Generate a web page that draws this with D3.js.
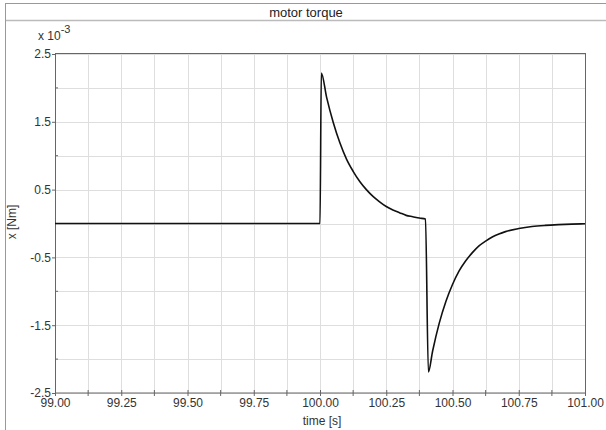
<!DOCTYPE html>
<html>
<head>
<meta charset="utf-8">
<script src="https://cdn.jsdelivr.net/npm/d3@7"></script>
<style>
  body { margin: 0; background: #fff; }
  svg { display: block; font-family: "Liberation Sans", Arial, sans-serif; }
  .tick text { font-size: 12px; fill: #333; }
</style>
</head>
<body>
<div id="chart"></div>
<script>
// time [s]
var time = [99.00, 100.000, 100.005, 100.025, 100.050, 100.075, 100.100, 100.125, 100.150,
  100.175, 100.200, 100.225, 100.250, 100.275, 100.300, 100.325, 100.350, 100.375, 100.398,
  100.409, 100.425, 100.450, 100.475, 100.500, 100.525, 100.550, 100.575, 100.600, 100.625,
  100.650, 100.675, 100.700, 100.750, 100.800, 100.850, 100.900, 100.950, 101.000]
// torque, x 10^-3 Nm
var torque = [0, 0, 2.22, 1.86, 1.49, 1.19, 0.95, 0.77, 0.62,
  0.50, 0.40, 0.32, 0.25, 0.20, 0.16, 0.12, 0.10, 0.08, 0.065,
  -2.19, -1.88, -1.47, -1.15, -0.90, -0.70, -0.55, -0.43, -0.33, -0.26,
  -0.20, -0.155, -0.12, -0.075, -0.045, -0.028, -0.017, -0.009, -0.004]

var xTicks = [99.00, 99.25, 99.50, 99.75, 100.00, 100.25, 100.50, 100.75, 101.00]
var xMinor = [99.125, 99.375, 99.625, 99.875, 100.125, 100.375, 100.625, 100.875]
var yTicks = [2.5, 1.5, 0.5, -0.5, -1.5, -2.5]
var yMinor = [2.0, 1.0, 0.0, -1.0, -2.0]

var W = 606, H = 430
var m = {left: 55, right: 21, top: 54, bottom: 37}
var w = W - m.left - m.right, h = H - m.top - m.bottom

var svg = d3.select('#chart').append('svg').attr('width', W).attr('height', H)

// frame + title band
svg.append('line').attr('x1', 5.5).attr('x2', W).attr('y1', 3.5).attr('y2', 3.5).attr('stroke', '#999')
svg.append('line').attr('x1', 5.5).attr('x2', W).attr('y1', 20.5).attr('y2', 20.5).attr('stroke', '#bbb').attr('stroke-width', 1.5)
svg.append('line').attr('x1', 5.5).attr('x2', 5.5).attr('y1', 3).attr('y2', H).attr('stroke', '#999')
svg.append('text').attr('x', 306).attr('y', 16.5).attr('text-anchor', 'middle')
  .attr('font-size', 13).attr('fill', '#222').text('motor torque')

var x = d3.scaleLinear().domain([99, 101]).range([0, w])
var y = d3.scaleLinear().domain([-2.5, 2.5]).range([h, 0])

var g = svg.append('g').attr('transform', 'translate(' + m.left + ',' + m.top + ')')

// grid
var allX = xTicks.concat(xMinor), allY = yTicks.concat(yMinor)
g.selectAll('.gx').data(allX).join('line')
  .attr('x1', d => Math.round(x(d)) + 0.5).attr('x2', d => Math.round(x(d)) + 0.5)
  .attr('y1', 0).attr('y2', h).attr('stroke', '#dedede')
g.selectAll('.gy').data(allY).join('line')
  .attr('y1', d => Math.round(y(d)) + 0.5).attr('y2', d => Math.round(y(d)) + 0.5)
  .attr('x1', 0).attr('x2', w).attr('stroke', '#dedede')

// axes
var xAxis = d3.axisBottom(x).tickValues(xTicks).tickFormat(d3.format('.2f')).tickSize(3).tickPadding(2)
var gx = g.append('g').attr('transform', 'translate(0,' + h + ')').call(xAxis)
gx.selectAll('.tick line').attr('y1', -3)
gx.append('g').selectAll('line').data(xMinor).join('line')
  .attr('x1', d => x(d)).attr('x2', d => x(d)).attr('y1', -3).attr('y2', 3).attr('stroke', '#666')

var yAxis = d3.axisLeft(y).tickValues(yTicks).tickFormat(d => d).tickSize(3).tickPadding(1)
var gy = g.append('g').call(yAxis)
gy.append('g').selectAll('line').data(yMinor).join('line')
  .attr('y1', d => y(d)).attr('y2', d => y(d)).attr('x1', 0).attr('x2', 3).attr('stroke', '#666')

g.selectAll('.domain').remove()
g.selectAll('.tick line').attr('stroke', '#666')

g.append('rect').attr('x', 0.5).attr('y', -0.5).attr('width', w).attr('height', h + 0.5)
  .attr('fill', 'none').attr('stroke', '#666')

// curve
var pts = time.map((t, i) => [t, torque[i]])
var line = d3.line().x(d => x(d[0])).y(d => y(d[1])).curve(d3.curveMonotoneX)
g.append('path').attr('d', line(pts)).attr('fill', 'none').attr('stroke', '#111').attr('stroke-width', 1.6)

// labels
var ex = svg.append('text').attr('x', 38).attr('y', 40).attr('font-size', 12).attr('fill', '#333')
ex.append('tspan').text('x 10')
ex.append('tspan').attr('dy', -7).attr('font-size', 11).text('-3')

svg.append('text').attr('transform', 'translate(16,222) rotate(-90)').attr('text-anchor', 'middle')
  .attr('font-size', 12).attr('fill', '#333').text('x [Nm]')
svg.append('text').attr('x', 322).attr('y', 425).attr('text-anchor', 'middle')
  .attr('font-size', 12).attr('fill', '#333').text('time [s]')
</script>
</body>
</html>
